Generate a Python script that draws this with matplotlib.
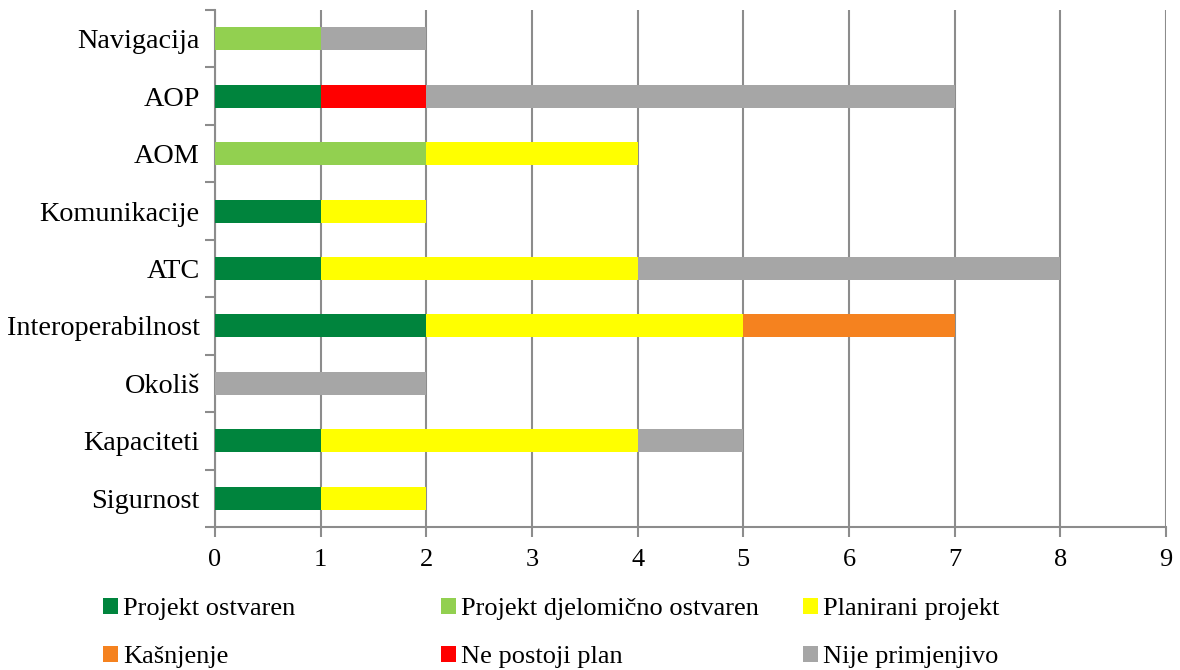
import matplotlib
matplotlib.use("Agg")
import matplotlib.pyplot as plt
import numpy as np

plt.rcParams['font.family'] = ['Liberation Serif', 'DejaVu Serif']

categories = ["Sigurnost", "Kapaciteti", "Okoliš", "Interoperabilnost", "ATC",
              "Komunikacije", "AOM", "AOP", "Navigacija"]
series_names = ["Projekt ostvaren", "Projekt djelomično ostvaren", "Planirani projekt",
                "Kašnjenje", "Ne postoji plan", "Nije primjenjivo"]
ostvaren     = [1, 1, 0, 2, 1, 1, 0, 1, 0]
djelomicno   = [0, 0, 0, 0, 0, 0, 2, 0, 1]
planirani    = [1, 3, 0, 3, 3, 1, 2, 0, 0]
kasnjenje    = [0, 0, 0, 2, 0, 0, 0, 0, 0]
ne_postoji   = [0, 0, 0, 0, 0, 0, 0, 1, 0]
nije_primj   = [0, 1, 2, 0, 4, 0, 0, 5, 1]
colors = ["#00843D", "#92D050", "#FFFF00", "#F5821F", "#FF0000", "#A6A6A6"]
x_ticks = [0, 1, 2, 3, 4, 5, 6, 7, 8, 9]

data = [ostvaren, djelomicno, planirani, kasnjenje, ne_postoji, nije_primj]

fig = plt.figure(figsize=(11.8, 6.7), dpi=100)
ax = fig.add_axes([215/1180, 1-527/670, (1166-215)/1180, (527-10)/670])

y = np.arange(len(categories))
left = np.zeros(len(categories))
handles = []
for vals, name, c in zip(data, series_names, colors):
    vals = np.array(vals, dtype=float)
    b = ax.barh(y, vals, left=left, height=0.4, color=c, label=name, zorder=3)
    handles.append(b)
    left += vals

gc = "#8C8C8C"
ax.set_xlim(0, 9)
ax.set_ylim(-0.5, len(categories) - 0.5)
ax.set_xticks(x_ticks)
ax.set_xticklabels([str(t) for t in x_ticks], fontsize=19)
ax.set_yticks(y)
ax.set_yticklabels(categories, fontsize=20.3)
ax.set_yticks(np.arange(-0.5, len(categories), 1.0), minor=True)
ax.tick_params(axis='y', which='major', length=0, pad=11)
ax.tick_params(axis='y', which='minor', length=7, color=gc, width=1.5, direction='out')
ax.tick_params(axis='x', which='major', length=7, color=gc, width=1.5, direction='out', pad=9)
ax.xaxis.grid(True, color=gc, linewidth=1.5, zorder=0)
ax.set_axisbelow(True)
for s in ['top', 'right']:
    ax.spines[s].set_visible(False)
for s in ['left', 'bottom']:
    ax.spines[s].set_color(gc)
    ax.spines[s].set_linewidth(1.5)

# legend: three columns, each with two rows
col_groups = [[0, 3], [1, 4], [2, 5]]
col_x = [103/1180, 441/1180, 803/1180]
for cx, grp in zip(col_x, col_groups):
    fig.legend([handles[i] for i in grp], [series_names[i] for i in grp],
               loc='upper left', bbox_to_anchor=(cx, 1-598/670), frameon=False,
               fontsize=19, handlelength=0.55, handleheight=0.55, handletextpad=0.2,
               labelspacing=0.96, borderpad=0, borderaxespad=0)

fig.savefig("out.png", dpi=100)
